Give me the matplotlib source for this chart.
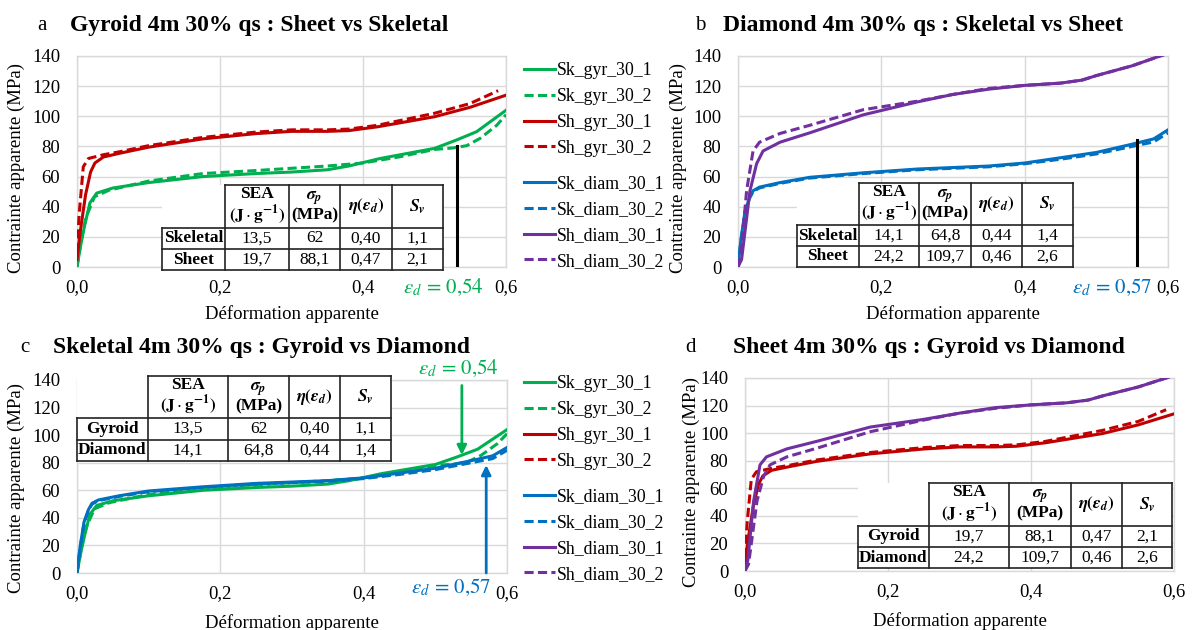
import matplotlib
matplotlib.use("Agg")
import matplotlib.pyplot as plt
from matplotlib.lines import Line2D
from matplotlib.patches import Rectangle

plt.rcParams['font.family'] = ['Liberation Serif', 'DejaVu Serif']
plt.rcParams['mathtext.fontset'] = 'stix'

# ---------------- data ----------------
sk_gyr_1_strain = [0, 0.005, 0.01, 0.018, 0.0275, 0.05, 0.1, 0.176, 0.25, 0.3, 0.35, 0.38, 0.424, 0.5, 0.531, 0.559, 0.578, 0.6]
sk_gyr_1_stress = [0, 14, 26, 42.5, 49, 52.4, 56, 60, 62, 63, 64.5, 67, 72, 78.7, 84.3, 89.8, 96.4, 104]
sk_gyr_2_strain = [0, 0.006, 0.0126, 0.0245, 0.045, 0.1, 0.176, 0.25, 0.3, 0.35, 0.4, 0.45, 0.5, 0.526, 0.545, 0.564, 0.587, 0.6]
sk_gyr_2_stress = [0, 18, 33, 46.6, 51, 57, 62, 64, 65.5, 67, 69, 73, 78, 79, 80.5, 85.4, 94, 101]

sh_gyr_1_strain = [0, 0.005, 0.012, 0.019, 0.025, 0.037, 0.06, 0.1, 0.176, 0.25, 0.3, 0.35, 0.38, 0.42, 0.45, 0.5, 0.55, 0.6]
sh_gyr_1_stress = [5, 25, 48, 63, 69, 73, 75.5, 79.5, 85, 88.5, 90, 90, 90.5, 93, 95.5, 99.7, 106, 114]
sh_gyr_2_strain = [0, 0.003, 0.0088, 0.016, 0.037, 0.06, 0.1, 0.176, 0.25, 0.3, 0.35, 0.38, 0.42, 0.45, 0.5, 0.55, 0.589]
sh_gyr_2_stress = [10, 35, 66.5, 72, 74.5, 76.5, 80.5, 86, 89.5, 91, 91, 91.5, 94, 97, 102, 108.5, 117]

sk_diam_1_strain = [0, 0.004, 0.0098, 0.016, 0.021, 0.03, 0.0586, 0.1, 0.175, 0.25, 0.3, 0.35, 0.4, 0.45, 0.5, 0.55, 0.58, 0.6]
sk_diam_1_stress = [0, 18, 37, 46, 50.6, 53, 56, 59.5, 62.5, 65, 66, 67, 69, 72.5, 76, 81.5, 85, 91]
sk_diam_2_strain = [0, 0.004, 0.0098, 0.016, 0.021, 0.03, 0.0586, 0.1, 0.175, 0.25, 0.3, 0.35, 0.4, 0.45, 0.5, 0.55, 0.58, 0.6]
sk_diam_2_stress = [0, 17, 36, 45.5, 50, 52.5, 55.5, 59, 62, 64.5, 65.5, 66.5, 68.5, 71.5, 75, 80, 83, 89]

sh_diam_1_strain = [0, 0.005, 0.0167, 0.026, 0.035, 0.0586, 0.1, 0.175, 0.25, 0.3, 0.35, 0.4, 0.45, 0.48, 0.5, 0.55, 0.595]
sh_diam_1_stress = [0, 5, 50.6, 68.6, 77, 82.8, 89, 101, 109.5, 114.5, 118, 120.5, 122, 124, 127, 133.5, 141]
sh_diam_2_strain = [0, 0.004, 0.012, 0.021, 0.03, 0.0586, 0.1, 0.175, 0.25, 0.3, 0.35, 0.4, 0.45, 0.48, 0.5, 0.55, 0.595]
sh_diam_2_stress = [0, 8, 50.6, 77, 82.8, 88.6, 94, 104.4, 110, 114.5, 118.5, 120.5, 122, 124, 127, 133.5, 141]

x_ticks = [0, 0.2, 0.4, 0.6]
x_tick_labels = ["0,0", "0,2", "0,4", "0,6"]
y_ticks = [0, 20, 40, 60, 80, 100, 120, 140]

titles = ["Gyroid 4m 30% qs : Sheet vs Skeletal", "Diamond 4m 30% qs : Skeletal vs Sheet",
          "Skeletal 4m 30% qs : Gyroid vs Diamond", "Sheet 4m 30% qs : Gyroid vs Diamond"]
panel_letters = ["a", "b", "c", "d"]

table_header = ["SEA\n" + r"$\mathbf{(J}\cdot\mathbf{g^{-1})}$",
                r"$\mathbfit{\sigma}_{\mathbfit{p}}$" + "\n(MPa)",
                r"$\mathbfit{\eta}\mathbf{(}\mathbfit{\varepsilon}_{\mathbfit{d}}\mathbf{)}$",
                r"$\mathbfit{S}_{\mathbfit{v}}$"]
table_a_rows = ["Skeletal", "Sheet"]
table_a_vals = [["13,5", "62", "0,40", "1,1"], ["19,7", "88,1", "0,47", "2,1"]]
table_b_rows = ["Skeletal", "Sheet"]
table_b_vals = [["14,1", "64,8", "0,44", "1,4"], ["24,2", "109,7", "0,46", "2,6"]]
table_c_rows = ["Gyroid", "Diamond"]
table_c_vals = [["13,5", "62", "0,40", "1,1"], ["14,1", "64,8", "0,44", "1,4"]]
table_d_rows = ["Gyroid", "Diamond"]
table_d_vals = [["19,7", "88,1", "0,47", "2,1"], ["24,2", "109,7", "0,46", "2,6"]]

eps_d_gyr = 0.531
eps_d_gyr_stress = 80
eps_d_diam = 0.557
eps_d_diam_stress = 84
eps_d_gyr_label = r"$\varepsilon_d\,=\,0{,}54$"
eps_d_diam_label = r"$\varepsilon_d\,=\,0{,}57$"
arrow_gyr_x, arrow_gyr_tip = 0.537, 85.6
arrow_diam_x, arrow_diam_tip = 0.571, 78.3

# ---------------- styles ----------------
GREEN = "#00B050"
RED = "#C00000"
BLUE = "#0070C0"
PURPLE = "#7030A0"
LW = 2.2
DASH = (3.0, 1.4)

W, H = 1193, 630
fig = plt.figure(figsize=(W / 100, H / 100), dpi=100)


def fx(px):
    return px / W


def fy(py):
    return 1 - py / H


def make_ax(left, top, right, bottom):
    return fig.add_axes([fx(left), fy(bottom), fx(right) - fx(left), fy(top) - fy(bottom)])


ax_a = make_ax(77, 56, 506, 267)
ax_b = make_ax(738, 56, 1168, 267)
ax_c = make_ax(77, 380, 507, 573)
ax_d = make_ax(745, 378, 1174, 571)

ylabel_x = {0: -0.121, 1: -0.119, 2: -0.121, 3: -0.105}
ylabel_y = {0: 0.47, 1: 0.47, 2: 0.44, 3: 0.46}
xlabel_y = {0: -0.18, 1: -0.18, 2: -0.212, 3: -0.212}

for i, ax in enumerate([ax_a, ax_b, ax_c, ax_d]):
    ax.set_xlim(0, 0.6)
    ax.set_ylim(0, 140)
    ax.set_xticks(x_ticks)
    ax.set_xticklabels(x_tick_labels)
    ax.set_yticks(y_ticks)
    ax.tick_params(axis='both', length=0, labelsize=13.5)
    ax.tick_params(axis='y', pad=12)
    ax.tick_params(axis='x', pad=9)
    ax.grid(True, color="#d9d9d9", linewidth=1.0)
    ax.set_axisbelow(True)
    for s in ax.spines.values():
        s.set_color("#d9d9d9")
        s.set_linewidth(1.0)
    ax.set_ylabel("Contrainte apparente (MPa)", fontsize=13.5)
    ax.yaxis.set_label_coords(ylabel_x[i], ylabel_y[i])
    ax.set_xlabel("Déformation apparente", fontsize=13.5)
    ax.xaxis.set_label_coords(0.5, xlabel_y[i])


def plot_curve(ax, sx, sy, color, dashed, label):
    if dashed:
        ln, = ax.plot(sx, sy, color=color, lw=LW, dashes=DASH, label=label, zorder=3)
    else:
        ln, = ax.plot(sx, sy, color=color, lw=LW, label=label, zorder=3)
    return ln


# panel a
h1 = plot_curve(ax_a, sk_gyr_1_strain, sk_gyr_1_stress, GREEN, False, "Sk_gyr_30_1")
h2 = plot_curve(ax_a, sk_gyr_2_strain, sk_gyr_2_stress, GREEN, True, "Sk_gyr_30_2")
h3 = plot_curve(ax_a, sh_gyr_1_strain, sh_gyr_1_stress, RED, False, "Sh_gyr_30_1")
h4 = plot_curve(ax_a, sh_gyr_2_strain, sh_gyr_2_stress, RED, True, "Sh_gyr_30_2")
ax_a.plot([eps_d_gyr, eps_d_gyr], [0, eps_d_gyr_stress], color="black", lw=2.2, zorder=4)

# panel b
h5 = plot_curve(ax_b, sk_diam_1_strain, sk_diam_1_stress, BLUE, False, "Sk_diam_30_1")
h6 = plot_curve(ax_b, sk_diam_2_strain, sk_diam_2_stress, BLUE, True, "Sk_diam_30_2")
h7 = plot_curve(ax_b, sh_diam_1_strain, sh_diam_1_stress, PURPLE, False, "Sh_diam_30_1")
h8 = plot_curve(ax_b, sh_diam_2_strain, sh_diam_2_stress, PURPLE, True, "Sh_diam_30_2")
ax_b.plot([eps_d_diam, eps_d_diam], [0, eps_d_diam_stress], color="black", lw=2.2, zorder=4)

# panel c
plot_curve(ax_c, sk_gyr_1_strain, sk_gyr_1_stress, GREEN, False, "Sk_gyr_30_1")
plot_curve(ax_c, sk_gyr_2_strain, sk_gyr_2_stress, GREEN, True, "Sk_gyr_30_2")
plot_curve(ax_c, sk_diam_1_strain, sk_diam_1_stress, BLUE, False, "Sk_diam_30_1")
plot_curve(ax_c, sk_diam_2_strain, sk_diam_2_stress, BLUE, True, "Sk_diam_30_2")
ax_c.annotate("", xy=(arrow_gyr_x, arrow_gyr_tip), xytext=(arrow_gyr_x, 136),
              arrowprops=dict(arrowstyle="-|>", color=GREEN, lw=2, mutation_scale=14, shrinkA=0, shrinkB=0),
              annotation_clip=False, zorder=5)
ax_c.annotate("", xy=(arrow_diam_x, arrow_diam_tip), xytext=(arrow_diam_x, 0),
              arrowprops=dict(arrowstyle="-|>", color=BLUE, lw=2, mutation_scale=14, shrinkA=0, shrinkB=0),
              annotation_clip=False, zorder=5)

# panel d (solid/dashed purple appear swapped in the original figure)
plot_curve(ax_d, sh_gyr_1_strain, sh_gyr_1_stress, RED, False, "Sh_gyr_30_1")
plot_curve(ax_d, sh_gyr_2_strain, sh_gyr_2_stress, RED, True, "Sh_gyr_30_2")
plot_curve(ax_d, sh_diam_2_strain, sh_diam_2_stress, PURPLE, False, "Sh_diam_30_1")
plot_curve(ax_d, sh_diam_1_strain, sh_diam_1_stress, PURPLE, True, "Sh_diam_30_2")

# ---------------- legends ----------------
handles_gyr = [h1, h2, h3, h4]
handles_diam = [h5, h6, h7, h8]
for top_a, top_b in [(62, 175), (375, 488)]:
    for hs, top in [(handles_gyr, top_a), (handles_diam, top_b)]:
        fig.legend(handles=hs, labels=[h.get_label() for h in hs], loc="upper left",
                   bbox_to_anchor=(fx(524), fy(top)), frameon=False, fontsize=12.8,
                   handlelength=1.75, handletextpad=0.12, labelspacing=0.5,
                   borderpad=0, borderaxespad=0)

# ---------------- titles ----------------
for letter, title, lx, tx, ty in [("a", titles[0], 42, 70, 25), ("b", titles[1], 700, 723, 25),
                                  ("c", titles[2], 25, 53, 347), ("d", titles[3], 690, 733, 347)]:
    fig.text(fx(lx), fy(ty), letter, fontsize=15, ha="center", va="center")
    fig.text(fx(tx), fy(ty), title, fontsize=17, fontweight="bold", ha="left", va="center")

# ---------------- epsilon labels ----------------
fig.text(fx(443), fy(287), eps_d_gyr_label, color=GREEN, fontsize=15, ha="center", va="center")
fig.text(fx(1112), fy(287), eps_d_diam_label, color=BLUE, fontsize=15, ha="center", va="center")
fig.text(fx(458), fy(368), eps_d_gyr_label, color=GREEN, fontsize=15, ha="center", va="center")
fig.text(fx(451), fy(587), eps_d_diam_label, color=BLUE, fontsize=15, ha="center", va="center")


# ---------------- tables ----------------
def draw_table(xs, ys, rows, vals):
    fig.add_artist(Rectangle((fx(xs[0]), fy(ys[-1])), fx(xs[-1]) - fx(xs[0]), fy(ys[0]) - fy(ys[-1]),
                             transform=fig.transFigure, facecolor="white", edgecolor="none", zorder=2))
    lw = 1.2
    col = "#222222"

    def hline(y, x0, x1):
        fig.add_artist(Line2D([fx(x0), fx(x1)], [fy(y), fy(y)], transform=fig.transFigure,
                              color=col, lw=lw, zorder=6))

    def vline(x, y0, y1):
        fig.add_artist(Line2D([fx(x), fx(x)], [fy(y0), fy(y1)], transform=fig.transFigure,
                              color=col, lw=lw, zorder=6))

    hline(ys[0], xs[1], xs[-1])
    for y in ys[1:]:
        hline(y, xs[0], xs[-1])
    vline(xs[0], ys[1], ys[-1])
    for x in xs[1:]:
        vline(x, ys[0], ys[-1])
    for j, t in enumerate(table_header):
        cx = (xs[j + 1] + xs[j + 2]) / 2
        cy = (ys[0] + ys[1]) / 2
        fig.text(fx(cx), fy(cy), t, fontsize=12.5, fontweight="bold", ha="center", va="center",
                 linespacing=1.05, zorder=7)
    for r, (name, rv) in enumerate(zip(rows, vals)):
        cy = (ys[r + 1] + ys[r + 2]) / 2
        fig.text(fx((xs[0] + xs[1]) / 2), fy(cy), name, fontsize=12.5, fontweight="bold",
                 ha="center", va="center", zorder=7)
        for j, v in enumerate(rv):
            cx = (xs[j + 1] + xs[j + 2]) / 2
            fig.text(fx(cx), fy(cy), v, fontsize=12.5, ha="center", va="center", zorder=7)


draw_table([162, 225, 289, 340, 392, 443], [185, 228, 249, 270], table_a_rows, table_a_vals)
draw_table([797, 859, 919, 971, 1022, 1073], [183, 225, 246, 267], table_b_rows, table_b_vals)
draw_table([77, 148, 228, 289, 340, 391], [376, 418, 440, 461], table_c_rows, table_c_vals)
draw_table([858, 929, 1009, 1071, 1122, 1172], [483, 526, 547, 568], table_d_rows, table_d_vals)

fig.savefig("out.png", dpi=100)
